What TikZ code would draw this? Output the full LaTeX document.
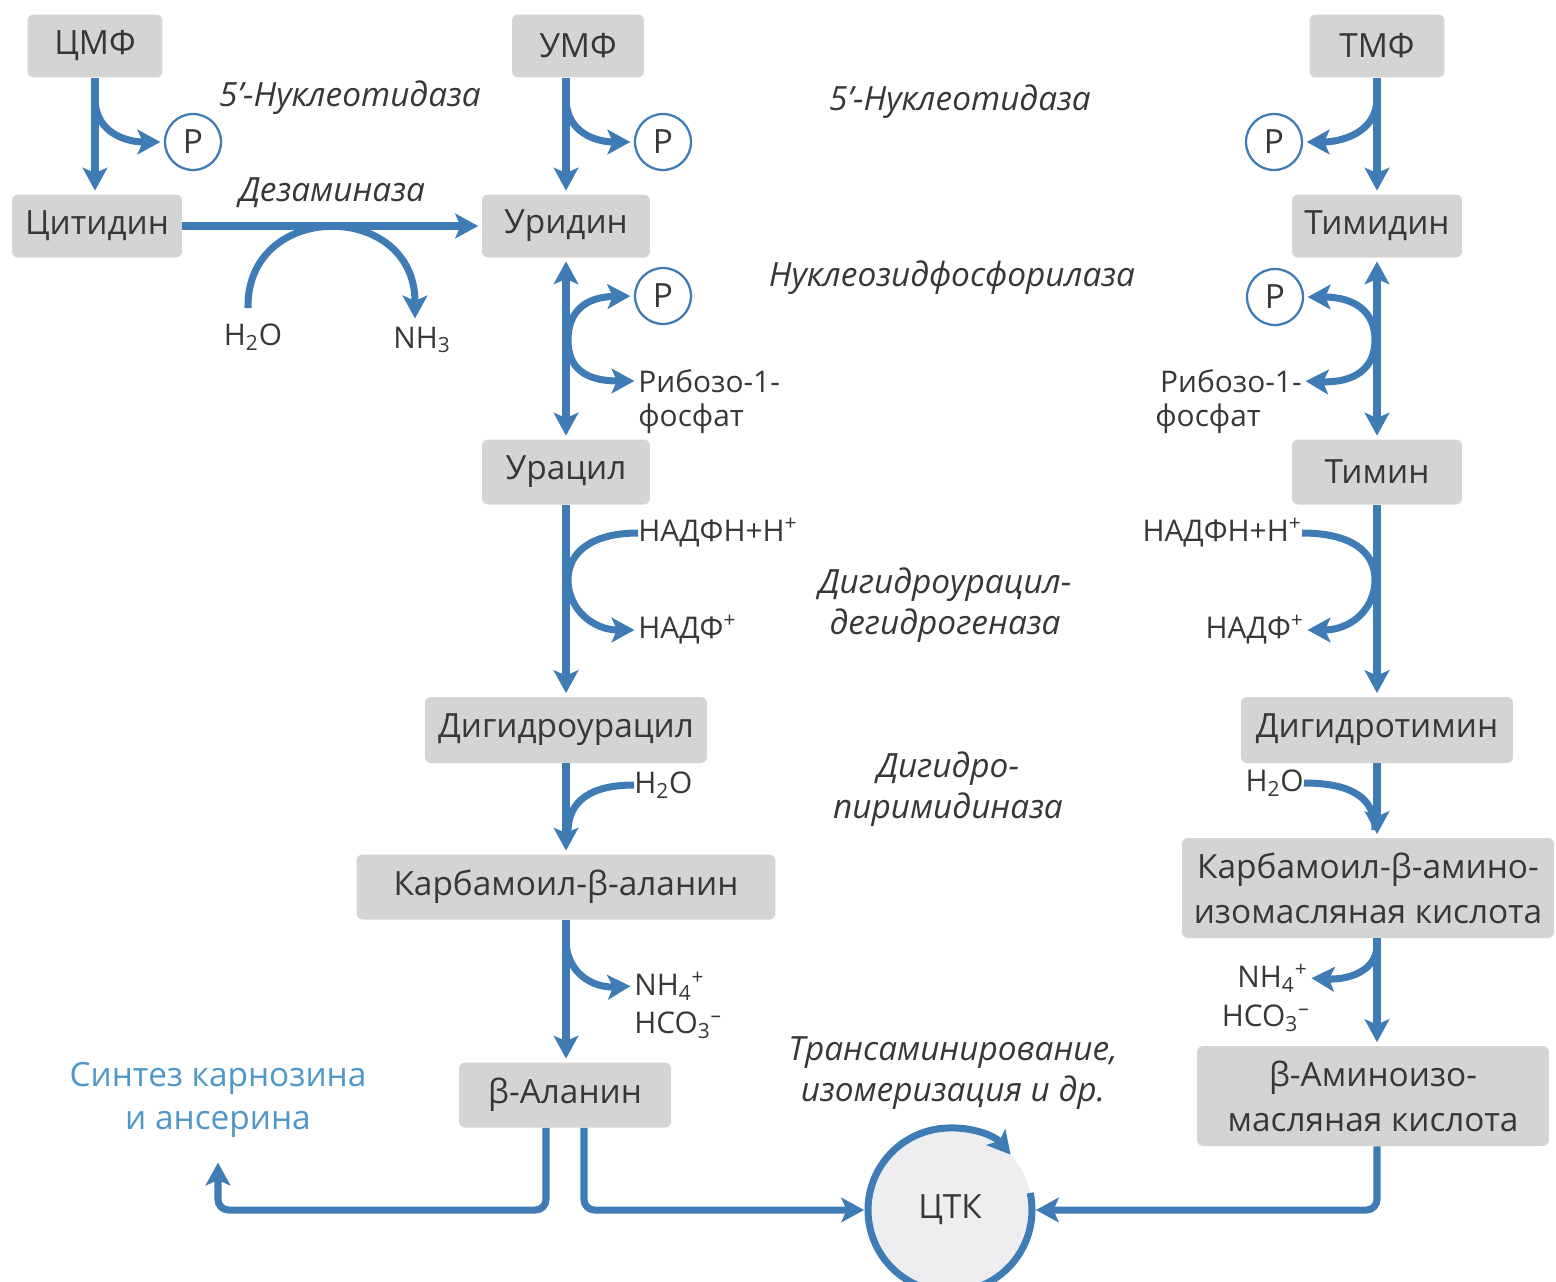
\documentclass[tikz,border=0pt]{standalone}
\usepackage{fontspec}
\setmainfont{Open Sans}
\usetikzlibrary{arrows.meta,calc}
\definecolor{flowblue}{RGB}{63,124,181}
\definecolor{boxgray}{RGB}{212,212,212}
\definecolor{ink}{RGB}{55,55,55}
\definecolor{sideblue}{RGB}{80,150,200}
\definecolor{cyclefill}{RGB}{238,238,240}
\begin{document}
\begin{tikzpicture}[x=0.02cm,y=-0.02cm,
  box/.style={fill=boxgray, rounded corners=0.12cm, text=ink,
    font=\fontsize{19pt}{25.6pt}\selectfont, minimum height=1.26cm,
    inner sep=0pt, align=center},
  enz/.style={text=ink, font=\fontsize{19pt}{23pt}\selectfont\itshape,
    align=center, inner sep=0pt},
  lbl/.style={text=ink, font=\fontsize{17pt}{21pt}\selectfont, inner sep=0pt},
  pcirc/.style={circle, draw=flowblue, line width=1.3pt, minimum size=1.12cm,
    inner sep=0pt, text=ink, font=\fontsize{19pt}{20pt}\selectfont, fill=white},
  flow/.style={draw=flowblue, line width=4pt},
  tip/.style={-{Stealth[length=13pt,width=14pt,inset=3pt]}, shorten >=2pt},
  tips/.style={{Stealth[length=13pt,width=14pt,inset=3pt]}-{Stealth[length=13pt,width=14pt,inset=3pt]},
    shorten >=2pt, shorten <=2pt},
]
\useasboundingbox (0,0) rectangle (1556,1282);

% --- compound boxes ---
\node[box, minimum width=2.7cm]  (cmf) at (95,46)   {ЦМФ};
\node[box, minimum width=2.64cm] (umf) at (578,46)  {УМФ};
\node[box, minimum width=2.7cm]  (tmf) at (1377,46) {ТМФ};
\node[box, minimum width=3.4cm]  (cyt) at (97,226)  {Цитидин};
\node[box, minimum width=3.36cm] (uri) at (566,226) {Уридин};
\node[box, minimum width=3.4cm]  (thd) at (1377,226) {Тимидин};
\node[box, minimum width=3.36cm, minimum height=1.3cm] (ura) at (566,472)  {Урацил};
\node[box, minimum width=3.4cm,  minimum height=1.3cm] (thy) at (1377,472) {Тимин};
\node[box, minimum width=5.64cm, minimum height=1.32cm] (dhu) at (566,730)  {Дигидроурацил};
\node[box, minimum width=5.44cm, minimum height=1.32cm] (dht) at (1377,730) {Дигидротимин};
\node[box, minimum width=8.38cm, minimum height=1.3cm] (cba) at (566,887) {Карбамоил-β-аланин};
\node[box, minimum width=7.44cm, minimum height=2.0cm] (cbai) at (1368,888) {Карбамоил-β-амино-\\изомасляная кислота};
\node[box, minimum width=4.24cm, minimum height=1.3cm] (bala) at (565,1095) {β-Аланин};
\node[box, minimum width=7.04cm, minimum height=2.0cm] (bami) at (1373,1096) {β-Аминоизо-\\масляная кислота};

% --- citric acid cycle ---
\node[circle, fill=cyclefill, minimum size=3.28cm, inner sep=0pt, text=ink,
  font=\fontsize{19pt}{22pt}\selectfont] (ctk) at (950,1210) {ЦТК};
\draw[flow, tip] ($(ctk.center)+(12:1.64cm)$) arc[start angle=12, end angle=-320, radius=1.64cm];

% --- phosphate circles ---
\node[pcirc] (p1) at (193,142)  {P};
\node[pcirc] (p2) at (663,142)  {P};
\node[pcirc] (p3) at (1274,142) {P};
\node[pcirc] (p4) at (663,296)  {P};
\node[pcirc] (p5) at (1275,297) {P};

% --- enzyme names ---
\node[enz] (nt1)  at (350,98)   {5’-Нуклеотидаза};
\node[enz] (nt2)  at (960,102)  {5’-Нуклеотидаза};
\node[enz] (deam) at (332,193)  {Дезаминаза};
\node[enz] (nfp)  at (952,278)  {Нуклеозидфосфорилаза};
\node[enz] (dud)  at (945,605)  {Дигидроурацил-\\дегидрогеназа};
\node[enz] (dpm)  at (948,789)  {Дигидро-\\пиримидиназа};
\node[enz] (trans) at (953,1073) {Трансаминирование,\\изомеризация и др.};
\node[text=sideblue, font=\fontsize{19pt}{24.5pt}\selectfont, align=center, inner sep=0pt]
  (synth) at (218,1100) {Синтез карнозина\\и ансерина};

% --- small substrate labels ---
\node[lbl] (h2oa) at (253,337) {H\textsubscript{2}O};
\node[lbl] (nh3)  at (422,340) {NH\textsubscript{3}};
\node[lbl, anchor=west] (rib1) at (638,381) {Рибозо-1-};
\node[lbl, anchor=west] (fos1) at (638,419) {фосфат};
\node[lbl, anchor=east] (rib2) at (1302,381) {Рибозо-1-};
\node[lbl, anchor=west] (fos2) at (1155,419) {фосфат};
\node[lbl, anchor=west] (nph1) at (638,533) {НАДФН+Н\textsuperscript{+}};
\node[lbl, anchor=west] (np1)  at (638,630) {НАДФ\textsuperscript{+}};
\node[lbl, anchor=east] (nph2) at (1302,533) {НАДФН+Н\textsuperscript{+}};
\node[lbl, anchor=east] (np2)  at (1304,630) {НАДФ\textsuperscript{+}};
\node[lbl, anchor=west] (h2ob) at (634,785) {H\textsubscript{2}O};
\node[lbl, anchor=east] (h2oc) at (1304,783) {H\textsubscript{2}O};
\node[lbl, anchor=west] (nh4a) at (634,986) {NH\textsubscript{4}\textsuperscript{+}};
\node[lbl, anchor=west] (hco3a) at (634,1025) {HCO\textsubscript{3}\textsuperscript{–}};
\node[lbl, anchor=east] (nh4b) at (1308,978) {NH\textsubscript{4}\textsuperscript{+}};
\node[lbl, anchor=east] (hco3b) at (1310,1018) {HCO\textsubscript{3}\textsuperscript{–}};

% --- main pathway ---
\draw[flow, tip] (cmf.south) -- (cyt.north -| cmf);
\draw[flow, tip] (umf.south -| uri) -- (uri.north);
\draw[flow, tip] (tmf.south) -- (thd.north);
\draw[flow, tip] (cyt.east) -- (uri.west);
\draw[flow, tips] (uri.south) -- (ura.north);
\draw[flow, tips] (thd.south) -- (thy.north);
\draw[flow, tip] (ura.south) -- (dhu.north);
\draw[flow, tip] (thy.south) -- (dht.north);
\draw[flow, tip] (dhu.south) -- (cba.north);
\draw[flow, tip] (dht.south) -- (cbai.north -| dht);
\draw[flow, tip] (cba.south) -- (bala.north -| cba);
\draw[flow, tip] (cbai.south -| dht) -- (bami.north -| dht);
\draw[flow, tip, rounded corners=6pt] ([xshift=-0.38cm]bala.south) |- (synth |- ctk) -- ([yshift=-0.42cm]synth.south);
\draw[flow, tip, rounded corners=6pt] ([xshift=0.38cm]bala.south) |- (ctk.west);
\draw[flow, tip, rounded corners=6pt] (bami.south -| dht) |- (ctk.east);

% --- side reactions ---
\coordinate (c1) at (95,98);
\coordinate (c2) at (566,98);
\coordinate (c3) at (1377,98);
\draw[flow, tip] (c1) .. controls +(0,36) and +(-36,0) .. (p1.west);
\draw[flow, tip] (c2) .. controls +(0,36) and +(-36,0) .. (p2.west);
\draw[flow, tip] (c3) .. controls +(0,36) and +(36,0) .. (p3.east);

\coordinate (dwin) at (248,308);
\coordinate (dwout) at (415,322);
\draw[flow, tip] (dwin) .. controls (246,200) and (415,200) .. (dwout);

\coordinate (k1) at (568,340);
\coordinate (k2) at (1375,340);
\draw[flow, tip] (k1) .. controls (568,312) and (585,297) .. (p4.west);
\draw[flow, tip] (k1) .. controls (568,368) and (585,381) .. (rib1.west);
\draw[flow, tip] (k2) .. controls (1375,312) and (1355,297) .. (p5.east);
\draw[flow, tip] (k2) .. controls (1375,368) and (1355,383) .. (rib2.east);

\coordinate (k3) at (568,580);
\coordinate (k4) at (1375,580);
\draw[flow] (nph1.west) .. controls (592,533) and (568,552) .. (k3);
\draw[flow, tip] (k3) .. controls (568,608) and (592,630) .. (np1.west);
\draw[flow] (nph2.east) .. controls (1352,533) and (1375,552) .. (k4);
\draw[flow, tip] (k4) .. controls (1375,608) and (1352,630) .. (np2.east);

\coordinate (k5) at (568,832);
\coordinate (k6) at (1375,830);
\draw[flow] (h2ob.west) .. controls (592,785) and (568,800) .. (k5);
\draw[flow] (h2oc.east) .. controls (1352,783) and (1375,798) .. (k6);

\coordinate (k7) at (566,940);
\coordinate (k8) at (1377,945);
\draw[flow, tip] (k7) .. controls (566,972) and (592,988) .. (nh4a.west);
\draw[flow, tip] (k8) .. controls (1377,970) and (1350,980) .. (nh4b.east);
\end{tikzpicture}
\end{document}
